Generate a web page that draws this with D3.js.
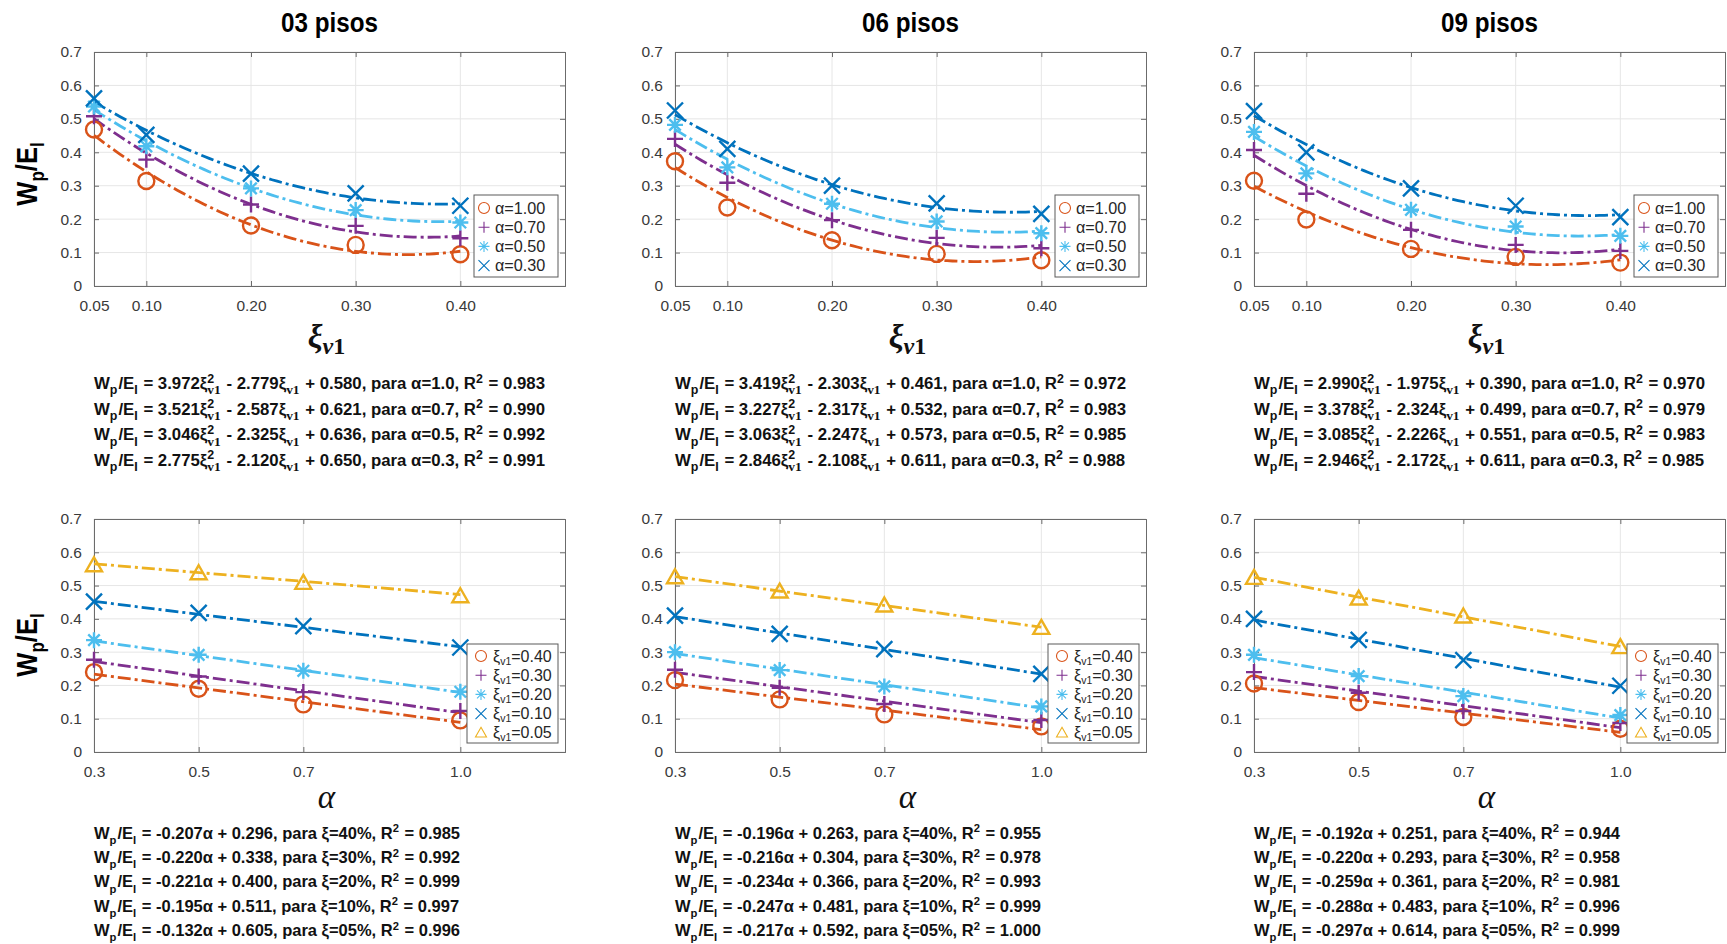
<!DOCTYPE html>
<html><head><meta charset="utf-8">
<script src="https://cdn.jsdelivr.net/npm/d3@7"></script>
<style>
body{margin:0;background:#fff;}
svg text{font-family:"Liberation Sans",Arial,Helvetica,sans-serif;}
</style></head><body>
<svg id="chart" width="1727" height="944"></svg>
<script>
// ---------------- DATA ----------------
const buildings = ["03 pisos", "06 pisos", "09 pisos"];
const xiValues = [0.05, 0.10, 0.20, 0.30, 0.40];
const xiTickLabels = ["0.05", "0.10", "0.20", "0.30", "0.40"];
const alphaValues = [1.0, 0.7, 0.5, 0.3];
const alphaLegend = ["α=1.00", "α=0.70", "α=0.50", "α=0.30"];
const alphaAxisValues = [0.3, 0.5, 0.7, 1.0];
const alphaTickLabels = ["0.3", "0.5", "0.7", "1.0"];
const yTickValues = [0, 0.1, 0.2, 0.3, 0.4, 0.5, 0.6, 0.7];
const yTickLabels = ["0", "0.1", "0.2", "0.3", "0.4", "0.5", "0.6", "0.7"];
const xiSeriesOrder = [0.40, 0.30, 0.20, 0.10, 0.05];
const xiSeriesLegend = ["0.40", "0.30", "0.20", "0.10", "0.05"];
const xiSeriesPct = ["40%", "30%", "20%", "10%", "05%"];

// W_p/E_I: rows = alpha (1.0, 0.7, 0.5, 0.3), cols = xi (0.05 .. 0.40)
const wp03 = [
  [0.468, 0.314, 0.181, 0.123, 0.095],
  [0.508, 0.378, 0.244, 0.180, 0.143],
  [0.537, 0.418, 0.292, 0.227, 0.190],
  [0.561, 0.452, 0.336, 0.277, 0.240]
];
const wp06 = [
  [0.373, 0.235, 0.137, 0.096, 0.077],
  [0.440, 0.309, 0.197, 0.144, 0.113],
  [0.482, 0.355, 0.246, 0.193, 0.158],
  [0.525, 0.410, 0.300, 0.247, 0.216]
];
const wp09 = [
  [0.315, 0.199, 0.111, 0.087, 0.070],
  [0.407, 0.276, 0.168, 0.123, 0.105],
  [0.461, 0.337, 0.228, 0.178, 0.150],
  [0.523, 0.400, 0.292, 0.240, 0.206]
];

// quadratic fits printed under the top plots (per alpha)
const quadA03 = [3.972, 3.521, 3.046, 2.775];
const quadB03 = [-2.779, -2.587, -2.325, -2.120];
const quadC03 = [0.580, 0.621, 0.636, 0.650];
const quadR2_03 = [0.983, 0.990, 0.992, 0.991];
const quadA06 = [3.419, 3.227, 3.063, 2.846];
const quadB06 = [-2.303, -2.317, -2.247, -2.108];
const quadC06 = [0.461, 0.532, 0.573, 0.611];
const quadR2_06 = [0.972, 0.983, 0.985, 0.988];
const quadA09 = [2.990, 3.378, 3.085, 2.946];
const quadB09 = [-1.975, -2.324, -2.226, -2.172];
const quadC09 = [0.390, 0.499, 0.551, 0.611];
const quadR2_09 = [0.970, 0.979, 0.983, 0.985];

// linear fits printed under the bottom plots (per xi: 40%,30%,20%,10%,05%)
const linSlope03 = [-0.207, -0.220, -0.221, -0.195, -0.132];
const linInt03 = [0.296, 0.338, 0.400, 0.511, 0.605];
const linR2_03 = [0.985, 0.992, 0.999, 0.997, 0.996];
const linSlope06 = [-0.196, -0.216, -0.234, -0.247, -0.217];
const linInt06 = [0.263, 0.304, 0.366, 0.481, 0.592];
const linR2_06 = [0.955, 0.978, 0.993, 0.999, 1.000];
const linSlope09 = [-0.192, -0.220, -0.259, -0.288, -0.297];
const linInt09 = [0.251, 0.293, 0.361, 0.483, 0.614];
const linR2_09 = [0.944, 0.958, 0.981, 0.996, 0.999];

const panels = [
  {name: buildings[0], wp: wp03, qa: quadA03, qb: quadB03, qc: quadC03, qr: quadR2_03, ls: linSlope03, li: linInt03, lr: linR2_03},
  {name: buildings[1], wp: wp06, qa: quadA06, qb: quadB06, qc: quadC06, qr: quadR2_06, ls: linSlope06, li: linInt06, lr: linR2_06},
  {name: buildings[2], wp: wp09, qa: quadA09, qb: quadB09, qc: quadC09, qr: quadR2_09, ls: linSlope09, li: linInt09, lr: linR2_09}
];

// ---------------- STYLE / LAYOUT ----------------
const seriesColors = ["#D95319", "#7E2F8E", "#4DBEEE", "#0072BD", "#EDB120"];
const seriesMarkers = ["o", "+", "*", "x", "^"];
const colLeft = [94, 675, 1254];
const plotW = 471;
const topRow = {y0: 52, y1: 286};
const botRow = {y0: 519, y1: 752};
const dash = "13,4,3,4";
const axisColor = "#6b6b6b";
const gridColor = "#e6e6e6";
const tickColor = "#3a3a3a";

const svg = d3.select("#chart");

function drawMarker(g, type, x, y, s, color, sw) {
  const h = s / 2;
  if (type === "o") {
    g.append("circle").attr("cx", x).attr("cy", y).attr("r", h)
      .attr("fill", "none").attr("stroke", color).attr("stroke-width", sw);
  } else if (type === "+") {
    g.append("path").attr("d", `M${x - h},${y}H${x + h}M${x},${y - h}V${y + h}`)
      .attr("stroke", color).attr("stroke-width", sw).attr("fill", "none");
  } else if (type === "x") {
    g.append("path").attr("d", `M${x - h},${y - h}L${x + h},${y + h}M${x - h},${y + h}L${x + h},${y - h}`)
      .attr("stroke", color).attr("stroke-width", sw).attr("fill", "none");
  } else if (type === "*") {
    const d = h * 0.72;
    g.append("path").attr("d", `M${x - h},${y}H${x + h}M${x},${y - h}V${y + h}M${x - d},${y - d}L${x + d},${y + d}M${x - d},${y + d}L${x + d},${y - d}`)
      .attr("stroke", color).attr("stroke-width", sw).attr("fill", "none");
  } else if (type === "^") {
    g.append("path").attr("d", `M${x},${y - h}L${x + h},${y + h * 0.75}L${x - h},${y + h * 0.75}Z`)
      .attr("stroke", color).attr("stroke-width", sw).attr("fill", "none").attr("stroke-linejoin", "miter");
  }
}

// rich text: parts with {t} normal, or {sup, sub} stacked scripts
function richText(g, x, y, parts, fs, weight, scr) {
  let cx = x;
  const ss = fs * (scr || 0.68);
  parts.forEach(p => {
    if (p.t !== undefined) {
      const t = g.append("text").attr("x", cx).attr("y", y).attr("font-size", fs)
        .attr("font-weight", weight).attr("fill", "#111").style("white-space", "pre").text(p.t);
      cx += t.node().getComputedTextLength();
    } else {
      let w = 0;
      if (p.sup) {
        const t = g.append("text").attr("x", cx).attr("y", y - fs * 0.38).attr("font-size", ss)
          .attr("font-weight", weight).attr("fill", "#111").text(p.sup);
        w = Math.max(w, t.node().getComputedTextLength());
      }
      if (p.sub) {
        const t = g.append("text").attr("x", cx).attr("y", y + fs * 0.32).attr("font-size", p.serif ? ss * 1.08 : ss)
          .attr("font-weight", weight).attr("fill", "#111").text(p.sub);
        if (p.serif) t.style("font-family", "'Liberation Serif','DejaVu Serif',serif");
        w = Math.max(w, t.node().getComputedTextLength());
      }
      cx += w + 1;
    }
  });
  return cx;
}

function drawAxes(g, x, y, xTicks, xLabels, left, row) {
  g.append("g").selectAll("line").data(xTicks).join("line")
    .attr("x1", d => x(d)).attr("x2", d => x(d)).attr("y1", row.y0).attr("y2", row.y1)
    .attr("stroke", gridColor).attr("stroke-width", 1);
  g.append("g").selectAll("line").data(yTickValues).join("line")
    .attr("x1", left).attr("x2", left + plotW).attr("y1", d => y(d)).attr("y2", d => y(d))
    .attr("stroke", gridColor).attr("stroke-width", 1);
  const axB = d3.axisBottom(x).tickValues(xTicks).tickSize(-5).tickFormat((d, i) => xLabels[i]).tickPadding(14);
  const axT = d3.axisTop(x).tickValues(xTicks).tickSize(-5).tickFormat("");
  const axL = d3.axisLeft(y).tickValues(yTickValues).tickSize(-5).tickFormat((d, i) => yTickLabels[i]).tickPadding(12);
  const axR = d3.axisRight(y).tickValues(yTickValues).tickSize(-5).tickFormat("");
  const styleAx = sel => {
    sel.select(".domain").attr("stroke", axisColor).attr("stroke-width", 1);
    sel.selectAll(".tick line").attr("stroke", axisColor);
    sel.selectAll(".tick text").attr("fill", tickColor).attr("font-size", 15.5)
      .style("font-family", "'Liberation Sans',Arial,sans-serif");
  };
  g.append("g").attr("transform", `translate(0,${row.y1})`).call(axB).call(styleAx);
  g.append("g").attr("transform", `translate(0,${row.y0})`).call(axT).call(styleAx);
  g.append("g").attr("transform", `translate(${left},0)`).call(axL).call(styleAx);
  g.append("g").attr("transform", `translate(${left + plotW},0)`).call(axR).call(styleAx);
}

panels.forEach((P, pi) => {
  const left = colLeft[pi];
  const cxMid = left + plotW / 2;
  const g = svg.append("g");

  // title
  g.append("text").attr("transform", `translate(${cxMid},32) scale(0.88,1)`).attr("text-anchor", "middle")
    .attr("font-size", 27.5).attr("font-weight", "bold").attr("fill", "#000").text(P.name);

  // ===== TOP: W/E vs xi =====
  const xT = d3.scaleLinear().domain([0.05, 0.5]).range([left, left + plotW]);
  const yT = d3.scaleLinear().domain([0, 0.7]).range([topRow.y1, topRow.y0]);
  drawAxes(g, xT, yT, xiValues, xiTickLabels, left, topRow);

  const lineT = d3.line().x(d => xT(d[0])).y(d => yT(d[1]));
  const xsFit = d3.range(0, 71).map(k => 0.05 + k * 0.005);
  alphaValues.forEach((a, i) => {
    const fit = xsFit.map(xv => [xv, P.qa[i] * xv * xv + P.qb[i] * xv + P.qc[i]]);
    g.append("path").attr("d", lineT(fit)).attr("fill", "none")
      .attr("stroke", seriesColors[i]).attr("stroke-width", 2.8).attr("stroke-dasharray", dash);
  });
  alphaValues.forEach((a, i) => {
    xiValues.forEach((xv, j) => {
      drawMarker(g, seriesMarkers[i], xT(xv), yT(P.wp[i][j]), 16, seriesColors[i], 2.4);
    });
  });
  // top legend
  {
    const lw = 84, lh = 82;
    const lx = left + plotW - 7 - lw, ly = topRow.y1 - 9 - lh;
    g.append("rect").attr("x", lx).attr("y", ly).attr("width", lw).attr("height", lh)
      .attr("fill", "#fff").attr("stroke", "#5a5a5a").attr("stroke-width", 1);
    alphaLegend.forEach((lab, i) => {
      const ey = ly + 13 + i * 19.2;
      drawMarker(g, seriesMarkers[i], lx + 10, ey, 11, seriesColors[i], 1.1);
      g.append("text").attr("x", lx + 21).attr("y", ey + 5.5).attr("font-size", 16.2)
        .attr("fill", "#262626").text(lab);
    });
  }
  // x label xi_v1
  {
    const t = g.append("text").attr("x", cxMid - 3).attr("y", 348).attr("text-anchor", "middle")
      .style("font-family", "'Liberation Serif','DejaVu Serif',serif").attr("fill", "#111");
    t.append("tspan").attr("font-size", 33).attr("font-style", "italic").attr("font-weight", "bold").text("ξ");
    t.append("tspan").attr("font-size", 24).attr("font-style", "italic").attr("font-weight", "bold").attr("dy", 6).text("v");
    t.append("tspan").attr("font-size", 24).attr("font-weight", "bold").text("1");
  }
  // top equations
  alphaValues.forEach((a, i) => {
    const parts = [
      {t: "W"}, {sub: "p"}, {t: "/E"}, {sub: "I"},
      {t: ` = ${P.qa[i].toFixed(3)}ξ`}, {sup: "2", sub: "v1", serif: true},
      {t: ` - ${Math.abs(P.qb[i]).toFixed(3)}ξ`}, {sub: "v1", serif: true},
      {t: ` + ${P.qc[i].toFixed(3)}, para α=${a.toFixed(1)}, R`}, {sup: "2"},
      {t: ` = ${P.qr[i].toFixed(3)}`}
    ];
    richText(g, left, 389 + i * 25.6, parts, 16.8, "bold", 0.74);
  });

  // ===== BOTTOM: W/E vs alpha =====
  const xB = d3.scaleLinear().domain([0.3, 1.2]).range([left, left + plotW]);
  const yB = d3.scaleLinear().domain([0, 0.7]).range([botRow.y1, botRow.y0]);
  drawAxes(g, xB, yB, alphaAxisValues, alphaTickLabels, left, botRow);
  const lineB = d3.line().x(d => xB(d[0])).y(d => yB(d[1]));
  xiSeriesOrder.forEach((xv, j) => {
    const fit = [0.3, 1.0].map(av => [av, P.ls[j] * av + P.li[j]]);
    g.append("path").attr("d", lineB(fit)).attr("fill", "none")
      .attr("stroke", seriesColors[j]).attr("stroke-width", 2.8).attr("stroke-dasharray", dash);
  });
  xiSeriesOrder.forEach((xv, j) => {
    const col = xiValues.indexOf(xv);
    alphaAxisValues.forEach(av => {
      const row = alphaValues.indexOf(av);
      drawMarker(g, seriesMarkers[j], xB(av), yB(P.wp[row][col]), 16, seriesColors[j], 2.4);
    });
  });
  // bottom legend
  {
    const lw = 91, lh = 99;
    const lx = left + plotW - 7 - lw, ly = botRow.y1 - 9 - lh;
    g.append("rect").attr("x", lx).attr("y", ly).attr("width", lw).attr("height", lh)
      .attr("fill", "#fff").attr("stroke", "#5a5a5a").attr("stroke-width", 1);
    xiSeriesLegend.forEach((lab, j) => {
      const ey = ly + 12 + j * 19.2;
      drawMarker(g, seriesMarkers[j], lx + 14, ey, 11, seriesColors[j], 1.1);
      const t = g.append("text").attr("x", lx + 26).attr("y", ey + 5.5).attr("font-size", 16).attr("fill", "#262626");
      t.append("tspan").text("ξ");
      t.append("tspan").attr("font-size", 10.5).attr("dy", 3).text("v1");
      t.append("tspan").attr("dy", -3).text("=" + lab);
    });
  }
  // x label alpha
  g.append("text").attr("x", cxMid - 3).attr("y", 808).attr("text-anchor", "middle")
    .style("font-family", "'Liberation Serif','DejaVu Serif',serif")
    .attr("font-size", 33).attr("font-style", "italic").attr("fill", "#111").text("α");
  // bottom equations
  xiSeriesPct.forEach((pct, j) => {
    const parts = [
      {t: "W"}, {sub: "p"}, {t: "/E"}, {sub: "I"},
      {t: ` = ${P.ls[j].toFixed(3)}α + ${P.li[j].toFixed(3)}, para ξ=${pct}, R`}, {sup: "2"},
      {t: ` = ${P.lr[j].toFixed(3)}`}
    ];
    richText(g, left, 838.5 + j * 24.4, parts, 16.5, "bold", 0.68);
  });
});

// y-axis labels (left column only)
[[topRow, 174], [botRow, 645]].forEach(([row, cy]) => {
  const t = svg.append("text").attr("transform", `translate(37,${cy}) rotate(-90) scale(0.85,1)`)
    .attr("text-anchor", "middle").attr("font-size", 30).attr("font-weight", "bold").attr("fill", "#000");
  t.append("tspan").text("W");
  t.append("tspan").attr("font-size", 20).attr("dy", 7).text("p");
  t.append("tspan").attr("dy", -7).text("/E");
  t.append("tspan").attr("font-size", 20).attr("dy", 7).text("I");
});
</script>
</body></html>
